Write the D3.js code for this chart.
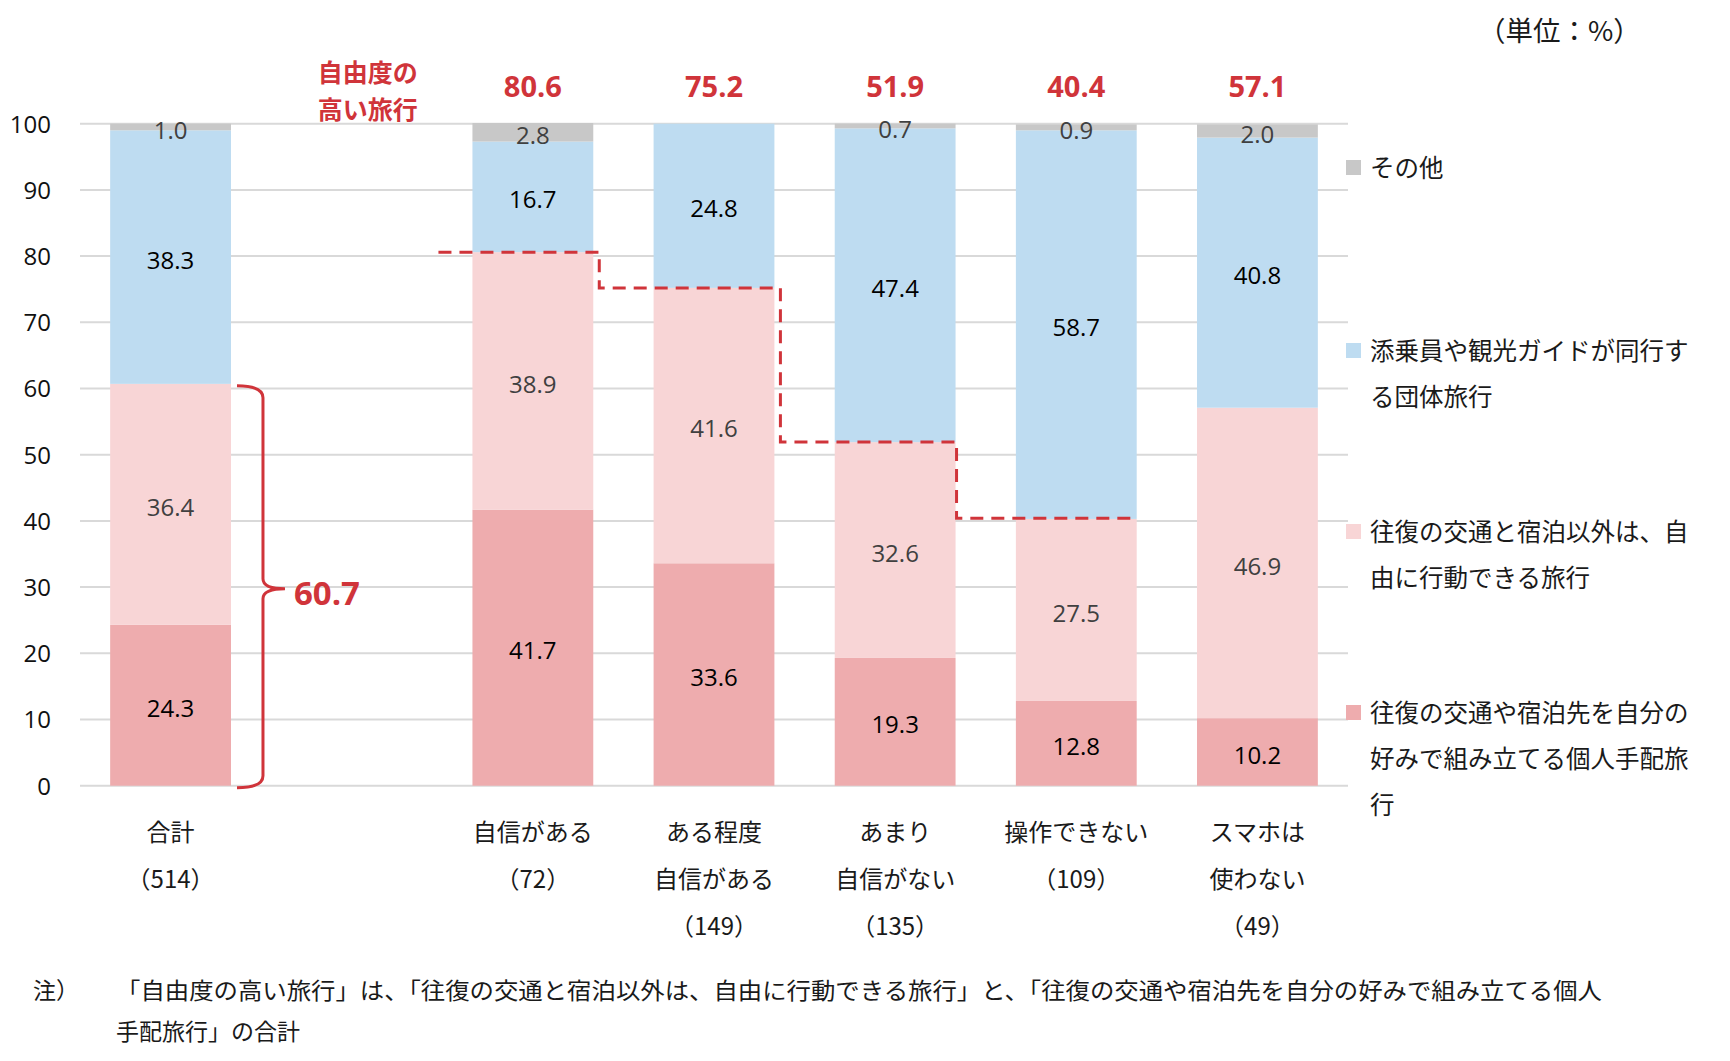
<!DOCTYPE html>
<html lang="ja">
<head>
<meta charset="utf-8">
<script src="https://cdn.jsdelivr.net/npm/d3@7"></script>
<style>
  html, body { margin: 0; padding: 0; background: #fff; }
  svg { display: block; font-family: "Open Sans", "Noto Sans CJK JP", sans-serif; }
  .jp { font-family: "Noto Sans CJK JP", sans-serif; }
</style>
</head>
<body>
<svg id="chart" width="1730" height="1061"></svg>
<script>
// ---- data ----
const categories = ["合計", "_gap", "自信がある", "ある程度自信がある", "あまり自信がない", "操作できない", "スマホは使わない"];
const categoryLines = [
  ["合計", "（514）"],
  [],
  ["自信がある", "（72）"],
  ["ある程度", "自信がある", "（149）"],
  ["あまり", "自信がない", "（135）"],
  ["操作できない", "（109）"],
  ["スマホは", "使わない", "（49）"]
];
const seriesNames = ["個人手配旅行", "自由行動旅行", "団体旅行", "その他"];
const kojinTehai = [24.3, null, 41.7, 33.6, 19.3, 12.8, 10.2];
const jiyuKodo   = [36.4, null, 38.9, 41.6, 32.6, 27.5, 46.9];
const dantai     = [38.3, null, 16.7, 24.8, 47.4, 58.7, 40.8];
const sonota     = [1.0,  null, 2.8,  0.0,  0.7,  0.9,  2.0];
const sonotaLabels = ["1.0", "", "2.8", "", "0.7", "0.9", "2.0"];
const freeTotals = [60.7, null, 80.6, 75.2, 51.9, 40.4, 57.1];
const yTicks = [0, 10, 20, 30, 40, 50, 60, 70, 80, 90, 100];
const legendItems = [
  { key: "その他", lines: ["その他"] },
  { key: "団体旅行", lines: ["添乗員や観光ガイドが同行す", "る団体旅行"] },
  { key: "自由行動旅行", lines: ["往復の交通と宿泊以外は、自", "由に行動できる旅行"] },
  { key: "個人手配旅行", lines: ["往復の交通や宿泊先を自分の", "好みで組み立てる個人手配旅", "行"] }
];
const unitLabel = "（単位：%）";
const highFreeLabel = ["自由度の", "高い旅行"];
const noteHead = "注）";
const noteLines = [
  "「自由度の高い旅行」は、「往復の交通と宿泊以外は、自由に行動できる旅行」と、「往復の交通や宿泊先を自分の好みで組み立てる個人",
  "手配旅行」の合計"
];

// ---- styles ----
const colors = { "個人手配旅行": "#eeacae", "自由行動旅行": "#f8d5d6", "団体旅行": "#bedcf1", "その他": "#c8c8c8" };
const labelColors = { "個人手配旅行": "#000", "自由行動旅行": "#404040", "団体旅行": "#000", "その他": "#404040" };
const red = "#d0343a";

const svg = d3.select("#chart");
const x = d3.scaleBand().domain(categories).range([80, 1348]).paddingInner(0.333).paddingOuter(0.1665);
const y = d3.scaleLinear().domain([0, 100]).range([785.7, 123.7]);

// table
const rows = categories.map((c, i) => ({
  cat: c, i,
  "個人手配旅行": kojinTehai[i] || 0,
  "自由行動旅行": jiyuKodo[i] || 0,
  "団体旅行": dantai[i] || 0,
  "その他": sonota[i] || 0
}));
const stacked = d3.stack().keys(seriesNames)(rows);

// gridlines
svg.append("g").selectAll("line").data(yTicks).join("line")
  .attr("x1", 80).attr("x2", 1348)
  .attr("y1", d => y(d)).attr("y2", d => y(d))
  .attr("stroke", "#d9d9d9").attr("stroke-width", 2);

// y axis labels
const yAxis = d3.axisLeft(y).tickValues(yTicks).tickSize(0).tickPadding(0);
const yg = svg.append("g").attr("transform", "translate(51,0)").call(yAxis);
yg.select(".domain").remove();
yg.selectAll("text").attr("font-size", 24).attr("fill", "#111").attr("dy", "0.35em")
  .attr("font-family", "'Open Sans', sans-serif");

// bars
stacked.forEach(s => {
  const g = svg.append("g");
  g.selectAll("rect").data(s.filter(d => d.data.cat !== "_gap")).join("rect")
    .attr("x", d => x(d.data.cat))
    .attr("width", x.bandwidth())
    .attr("y", d => y(d[1]))
    .attr("height", d => Math.max(0, y(d[0]) - y(d[1])))
    .attr("fill", colors[s.key]);
});

// data labels
stacked.forEach(s => {
  const g = svg.append("g");
  g.selectAll("text").data(s.filter(d => d.data.cat !== "_gap")).join("text")
    .attr("x", d => x(d.data.cat) + x.bandwidth() / 2)
    .attr("y", d => (y(d[0]) + y(d[1])) / 2 + (s.key === "その他" ? 3 : 3))
    .attr("dy", "0.36em")
    .attr("text-anchor", "middle")
    .attr("font-size", 24)
    .attr("fill", labelColors[s.key])
    .text(d => s.key === "その他" ? sonotaLabels[d.data.i] : d.data[s.key].toFixed(1));
});

// category labels
const catG = svg.append("g").attr("class", "jp");
categories.forEach((c, i) => {
  categoryLines[i].forEach((line, j) => {
    catG.append("text")
      .attr("x", x(c) + x.bandwidth() / 2)
      .attr("y", 832 + j * 47)
      .attr("dy", "0.36em")
      .attr("text-anchor", "middle")
      .attr("font-size", 24)
      .attr("fill", "#1a1a1a")
      .text(line);
  });
});

// top red totals
svg.append("g").selectAll("text").data(categories.map((c, i) => ({ c, v: freeTotals[i] })).filter((d, i) => i >= 2))
  .join("text")
  .attr("x", d => x(d.c) + x.bandwidth() / 2)
  .attr("y", 87).attr("dy", "0.36em")
  .attr("text-anchor", "middle")
  .attr("font-size", 29).attr("font-weight", 700)
  .attr("fill", red)
  .text(d => d.v.toFixed(1));

// "自由度の高い旅行"
highFreeLabel.forEach((t, j) => {
  svg.append("text").attr("class", "jp")
    .attr("x", x("_gap") + x.bandwidth() / 2 + 16)
    .attr("y", 73 + j * 37).attr("dy", "0.36em")
    .attr("text-anchor", "middle")
    .attr("font-size", 25).attr("font-weight", 700)
    .attr("fill", red).text(t);
});

// dashed step line
const stepCats = categories.slice(2, 6);
const pts = [];
const xStart = x(stepCats[0]) - 34;
stepCats.forEach((c, k) => {
  const v = freeTotals[categories.indexOf(c)];
  const xr = x(c) + x.bandwidth() + (k < 2 ? 6 : 1);
  if (k === 0) pts.push([xStart, y(v)]);
  else pts.push([pts[pts.length - 1][0], y(v)]);
  pts.push([xr, y(v)]);
});
svg.append("path")
  .attr("d", d3.line()(pts))
  .attr("fill", "none").attr("stroke", red)
  .attr("stroke-width", 3).attr("stroke-dasharray", "13,8");

// brace for 合計
const bTop = y(freeTotals[0]) + 2, bBot = y(0) + 2, bMid = (bTop + bBot) / 2 + 2;
const bx0 = x("合計") + x.bandwidth() + 6, bx1 = bx0 + 26, bTip = bx1 + 22;
const bracePath = `M${bx0},${bTop} Q${bx1},${bTop} ${bx1},${bTop + 12} L${bx1},${bMid - 10} Q${bx1},${bMid} ${bTip},${bMid} Q${bx1},${bMid} ${bx1},${bMid + 10} L${bx1},${bBot - 12} Q${bx1},${bBot} ${bx0},${bBot}`;
svg.append("path").attr("d", bracePath).attr("fill", "none").attr("stroke", red).attr("stroke-width", 3);
svg.append("text").attr("x", bTip + 9).attr("y", bMid + 4).attr("dy", "0.36em")
  .attr("font-size", 33).attr("font-weight", 700).attr("fill", red)
  .text(freeTotals[0].toFixed(1));

// legend
const legendY = [[168], [351, 397], [532, 578], [713, 759, 805]];
legendItems.forEach((it, k) => {
  svg.append("rect").attr("x", 1346).attr("y", legendY[k][0] - 8).attr("width", 15).attr("height", 15)
    .attr("fill", colors[it.key]);
  it.lines.forEach((ln, j) => {
    svg.append("text").attr("class", "jp")
      .attr("x", 1370).attr("y", legendY[k][j]).attr("dy", "0.36em")
      .attr("font-size", 24.5).attr("fill", "#1a1a1a").text(ln);
  });
});

// unit
svg.append("text").attr("class", "jp").attr("x", 1478).attr("y", 31).attr("dy", "0.36em")
  .attr("font-size", 27.5).attr("fill", "#1a1a1a").text(unitLabel);

// note
svg.append("text").attr("class", "jp").attr("x", 33).attr("y", 991).attr("dy", "0.36em")
  .attr("font-size", 23).attr("fill", "#1a1a1a").text(noteHead);
noteLines.forEach((ln, j) => {
  svg.append("text").attr("class", "jp").attr("x", 116).attr("y", 991 + j * 41).attr("dy", "0.36em")
    .attr("font-size", 23).attr("fill", "#1a1a1a").attr("textLength", j === 0 ? 1486 : null)
    .attr("lengthAdjust", "spacingAndGlyphs").text(ln);
});
</script>
</body>
</html>
